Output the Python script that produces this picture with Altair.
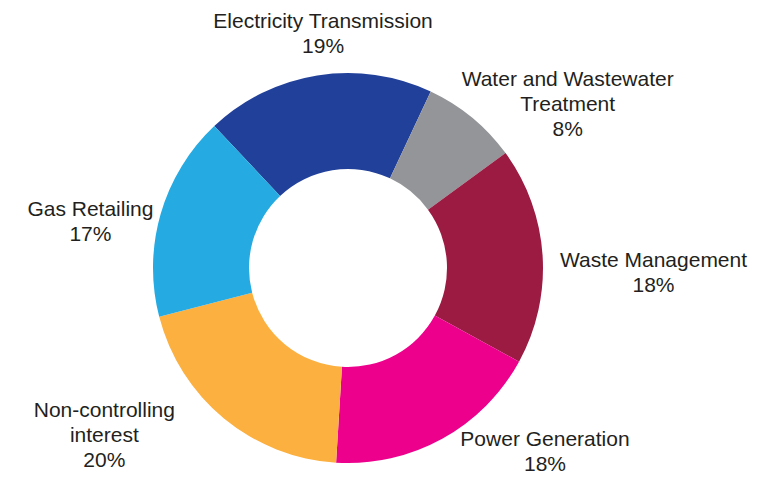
import altair as alt
import pandas as pd
import math

categories = ["Electricity Transmission", "Water and Wastewater Treatment", "Waste Management",
              "Power Generation", "Non-controlling interest", "Gas Retailing"]
label_lines = ["Electricity Transmission", "Water and Wastewater\nTreatment", "Waste Management",
               "Power Generation", "Non-controlling\ninterest", "Gas Retailing"]
values = [19, 8, 18, 18, 20, 17]
colors = ["#21409A", "#939598", "#9B1B42", "#EC008C", "#FBB040", "#25AAE1"]

df = pd.DataFrame({
    "category": categories,
    "value": values,
    "order": list(range(len(categories))),
    "label": [f"{l}\n{v}%" for l, v in zip(label_lines, values)],
})

start = -43.3 * math.pi / 180
theta_scale = alt.Scale(range=[start, start + 2 * math.pi])
cx, cy = 340, 260

base = alt.Chart(df).encode(
    theta=alt.Theta("value:Q", stack=True, scale=theta_scale),
    order=alt.Order("order:Q"),
    x=alt.value(cx),
    y=alt.value(cy),
)

arcs = base.mark_arc(outerRadius=195, innerRadius=99, stroke=None).encode(
    color=alt.Color("category:N", scale=alt.Scale(domain=categories, range=colors), legend=None)
)

offsets = [(13, -9), (67, -3), (66, 8), (81, -38), (-91, -42), (-27, 9)]
layers = [arcs]
for cat, (dx, dy) in zip(categories, offsets):
    layers.append(
        base.mark_text(
            radius=240, dx=dx, dy=dy, align="center", baseline="middle",
            lineBreak="\n", lineHeight=25, fontSize=21, font="Liberation Sans",
            color="#231F20",
        ).encode(
            text="label:N",
            opacity=alt.condition(alt.datum.category == cat, alt.value(1), alt.value(0)),
        )
    )

chart = alt.layer(*layers).properties(
    width=741, height=467, padding=0, autosize=alt.AutoSizeParams(type="none")
).configure_view(stroke=None)

chart.save("out.html", embed_options={"renderer": "svg", "actions": False})
